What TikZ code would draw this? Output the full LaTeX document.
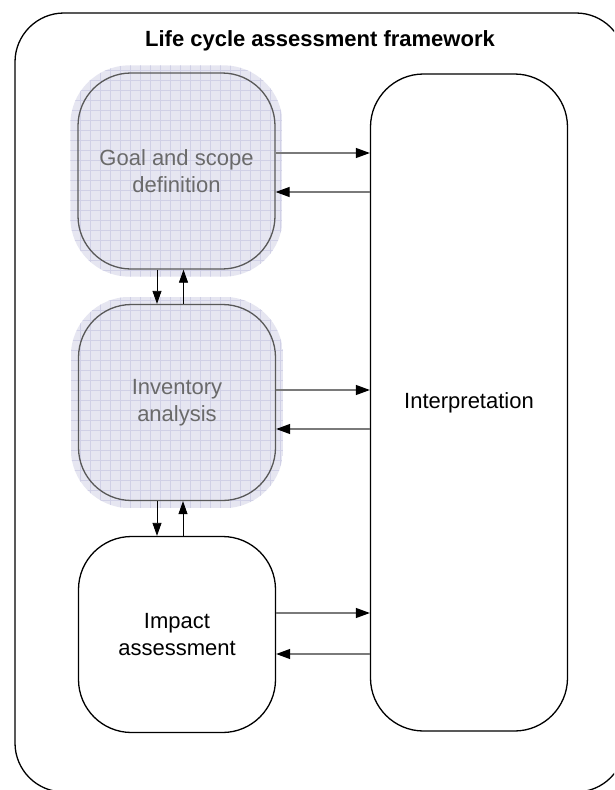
\documentclass[tikz,border=0pt]{standalone}
\usepackage{fontspec}
\setmainfont{Liberation Sans}
\usetikzlibrary{arrows.meta,backgrounds}
\definecolor{halo}{HTML}{E6E6F1}
\definecolor{haloline}{HTML}{D0D0E6}
\definecolor{phasetext}{HTML}{6A6A6A}
\definecolor{flowgray}{HTML}{7A7A7A}
\tikzset{
  phase/.style={draw, line width=1.3, rounded corners=53, minimum width=197, minimum height=196,
    inner sep=0, align=center, font=\fontsize{22}{27}\selectfont},
  shaded/.style={phase, draw=black!65, text=phasetext},
  flow/.style={-{Triangle[length=14pt,width=10pt,color=black]}, flowgray, line width=1.2},
  link/.style={-{Triangle[length=13pt,width=9pt]}, black, line width=0.8}
}
\begin{document}
\begin{tikzpicture}[x=1pt,y=-1pt]
\useasboundingbox (0,0) rectangle (614,790);
\clip (0,0) rectangle (614,790);
\draw[line width=1.3, rounded corners=49] (15,13) rectangle (625,792);
\node[font=\fontsize{22}{26}\selectfont\bfseries] (title) at (320,41) {Life cycle assessment framework};
\node[shaded] (goal) at (176.5,171) {Goal and scope\\definition};
\node[shaded] (inv) at (177,402.5) {Inventory\\analysis};
\node[phase] (impact) at (177,634.5) {Impact\\assessment};
\node[phase, minimum height=657] (interp) at (469,402.5) {Interpretation};
% lavender halo behind the first two phases
\begin{scope}[on background layer]
\foreach \n in {goal,inv}{
  \begin{scope}
  \clip[rounded corners=59] ([shift={(-7pt,7pt)}]\n.north west) rectangle ([shift={(7pt,-7pt)}]\n.south east);
  \fill[halo] ([shift={(-7pt,7pt)}]\n.north west) rectangle ([shift={(7pt,-7pt)}]\n.south east);
  \draw[haloline, line width=0.5, step=10pt] ([shift={(-7pt,7pt)}]\n.north west) grid ([shift={(7pt,-7pt)}]\n.south east);
  \end{scope}
}
\end{scope}
\draw[link] ([xshift=-19.5pt]goal.south) -- ([xshift=-19.5pt]goal.south |- inv.north);
\draw[link] ([xshift=6.5pt]inv.north) -- ([xshift=6.5pt]inv.north |- goal.south);
\draw[link] ([xshift=-20pt]inv.south) -- ([xshift=-20pt]inv.south |- impact.north);
\draw[link] ([xshift=6pt]impact.north) -- ([xshift=6pt]impact.north |- inv.south);
\draw[flow] ([yshift=18pt]goal.east) coordinate (g1) -- (g1 -| interp.west);
\draw[flow] ([yshift=-21pt]goal.east -| interp.west) coordinate (g2) -- (g2 -| goal.east);
\draw[flow] ([yshift=12.5pt]inv.east) coordinate (i1) -- (i1 -| interp.west);
\draw[flow] ([yshift=-26.5pt]inv.east -| interp.west) coordinate (i2) -- (i2 -| inv.east);
\draw[flow] ([yshift=21.5pt]impact.east) coordinate (m1) -- (m1 -| interp.west);
\draw[flow] ([yshift=-19.5pt]impact.east -| interp.west) coordinate (m2) -- (m2 -| impact.east);
\end{tikzpicture}
\end{document}
